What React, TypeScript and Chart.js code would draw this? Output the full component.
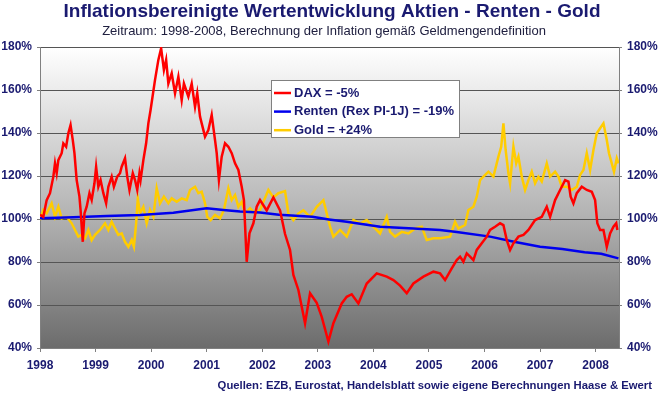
import { useEffect, useRef } from "react";
import { Chart, registerables } from "chart.js";

Chart.register(...registerables);

const titleText = "Inflationsbereinigte Wertentwicklung Aktien - Renten - Gold";
const subtitleText = "Zeitraum: 1998-2008, Berechnung der Inflation gemäß Geldmengendefinition";
const sourceText = "Quellen: EZB, Eurostat, Handelsblatt sowie eigene Berechnungen Haase & Ewert";
const seriesLabels = ["DAX = -5%", "Renten (Rex PI-1J) = -19%", "Gold = +24%"];
const seriesColors = ["#ff0000", "#0000ee", "#ffcc00"];

const xTickYears = [1998, 1999, 2000, 2001, 2002, 2003, 2004, 2005, 2006, 2007, 2008];
const yTickValues = [40, 60, 80, 100, 120, 140, 160, 180];

const daxYears = [
  1998.0, 1998.06, 1998.12, 1998.18, 1998.24, 1998.27, 1998.3, 1998.33, 1998.39, 1998.42,
  1998.47, 1998.51, 1998.55, 1998.59, 1998.62, 1998.66, 1998.71, 1998.73, 1998.77, 1998.8,
  1998.84, 1998.89, 1998.93, 1998.98, 1999.01, 1999.05, 1999.09, 1999.14, 1999.19, 1999.23,
  1999.29, 1999.33, 1999.39, 1999.44, 1999.47, 1999.53, 1999.57, 1999.61, 1999.67, 1999.71,
  1999.75, 1999.79, 1999.81, 1999.86, 1999.91, 1999.95, 1999.99,
  2000.07, 2000.13, 2000.18, 2000.23, 2000.27, 2000.31, 2000.37, 2000.43, 2000.49, 2000.55,
  2000.59, 2000.67, 2000.73, 2000.79, 2000.83, 2000.88,
  2000.91, 2000.97, 2001.03, 2001.09, 2001.15, 2001.18, 2001.22, 2001.27, 2001.33, 2001.39,
  2001.45, 2001.51, 2001.57, 2001.63, 2001.67, 2001.72, 2001.77, 2001.84, 2001.9, 2001.96,
  2002.08, 2002.2, 2002.32, 2002.41, 2002.5, 2002.56, 2002.65, 2002.77, 2002.86, 2002.98,
  2003.07, 2003.19, 2003.28, 2003.43, 2003.52, 2003.61, 2003.73, 2003.88, 2004.06, 2004.24,
  2004.36, 2004.48, 2004.6, 2004.72, 2004.9, 2005.08, 2005.2, 2005.29,
  2005.41, 2005.5, 2005.56, 2005.62, 2005.68, 2005.74, 2005.8, 2005.86, 2005.95, 2006.04,
  2006.1, 2006.19, 2006.28, 2006.34, 2006.4, 2006.46, 2006.52, 2006.61, 2006.7, 2006.79,
  2006.91, 2007.03, 2007.12, 2007.18, 2007.27, 2007.36, 2007.45, 2007.51, 2007.55, 2007.6,
  2007.66, 2007.75, 2007.84, 2007.93, 2007.99, 2008.03, 2008.08, 2008.14, 2008.2, 2008.26,
  2008.32, 2008.37, 2008.39,
];
const daxValues = [
  102, 101, 108.8, 112, 119.7, 125.9, 121.3, 127.4, 130.6, 135.2,
  133.6, 139.9, 143.7, 136.7, 130.6, 118.1, 110.4, 104.2, 89.4, 102.6,
  105.7, 112, 108.8, 116.6, 124.3, 115, 118.1, 112, 107.3, 115,
  119.7, 115, 119.7, 121.3, 124.3, 128.2, 119.7, 113.5, 121.3, 118.1,
  113.5, 121.3, 118.1, 127.4, 135.2, 144.5, 150.7,
  164.7, 174, 179.4, 169.3, 174, 163, 167.8, 158.5, 166.2, 155.3,
  163, 156.9, 163, 152.2, 158.5, 147.6,
  144.5, 138.3, 141.4, 148.4, 136.7, 130.6, 118.1, 129, 135.2, 133.6,
  130.6, 125.9, 122.8, 115, 108.8, 80.1, 93.3, 98, 105.7, 108.8,
  104, 110, 104, 93, 85.6, 74, 67, 51.5, 65.5, 61,
  54.5, 43, 51.5, 60.7, 63.8, 65, 60.7, 70, 74.7, 73.2,
  71.6, 69, 65.5, 70, 73.2, 75.5, 74.7, 71.6,
  77, 80.9, 82.5, 80.1, 84, 82.5, 80.9, 85.6, 88.7, 91.8,
  94.9, 96.4, 98, 97.2, 90.2, 85.6, 88.7, 91.8, 92.6, 94.9,
  99.5, 101, 105.7, 101, 108.8, 113.5, 118.1, 117.4, 110.4, 107.3,
  112, 115, 113.5, 112.7, 108.8, 98, 94.9, 94.9, 87.1, 93.3,
  96.4, 98, 94.9,
];

const rentenYears = [
  1998.0, 1998.6, 1999.2, 1999.8, 2000.4, 2001.0, 2001.3, 2001.6, 2001.96, 2002.3,
  2002.9, 2003.2, 2003.52, 2004.12, 2004.72, 2005.2, 2005.5, 2006.1, 2006.53, 2007.0,
  2007.4, 2007.8, 2008.1, 2008.41,
];
const rentenValues = [
  100.3, 100.8, 101.4, 101.9, 102.9, 105, 104.2, 103.5, 103, 102,
  101, 99.8, 98.7, 96.4, 95.6, 94.9, 94, 91.8, 89.4, 87.1,
  86, 84.5, 83.8, 81.7,
];

const goldYears = [
  1998.0, 1998.06, 1998.12, 1998.21, 1998.27, 1998.33, 1998.39, 1998.48, 1998.57, 1998.63,
  1998.69, 1998.75, 1998.81, 1998.87, 1998.93, 1998.99, 1999.08, 1999.17, 1999.23, 1999.29,
  1999.35, 1999.41, 1999.47, 1999.53, 1999.59, 1999.65, 1999.69, 1999.73, 1999.76, 1999.8,
  1999.86, 1999.92, 1999.98, 2000.04, 2000.1, 2000.16, 2000.23, 2000.31, 2000.37, 2000.46,
  2000.55, 2000.64, 2000.7, 2000.79, 2000.85, 2000.91, 2000.97, 2001.01, 2001.07, 2001.15,
  2001.24, 2001.31, 2001.39, 2001.45, 2001.51, 2001.57, 2001.63, 2001.69, 2001.78, 2001.87,
  2001.96,
  2002.11, 2002.2, 2002.29, 2002.41, 2002.47, 2002.56, 2002.65, 2002.74, 2002.86, 2002.98,
  2003.1, 2003.16, 2003.22, 2003.28, 2003.4, 2003.52, 2003.64, 2003.76, 2003.88, 2004.0,
  2004.12, 2004.24, 2004.3, 2004.39, 2004.51, 2004.63, 2004.75, 2004.87, 2004.96, 2005.08,
  2005.2, 2005.38, 2005.47, 2005.53, 2005.65, 2005.71, 2005.8, 2005.86, 2005.92, 2005.98,
  2006.07, 2006.16, 2006.25, 2006.3, 2006.34, 2006.38, 2006.43, 2006.46, 2006.52, 2006.57,
  2006.61, 2006.67, 2006.73, 2006.79, 2006.85, 2006.91, 2006.97, 2007.03, 2007.12, 2007.18,
  2007.27, 2007.33, 2007.39, 2007.48, 2007.57, 2007.66, 2007.72, 2007.78, 2007.84, 2007.9,
  2007.96, 2008.02, 2008.08, 2008.14, 2008.2, 2008.24, 2008.29, 2008.33, 2008.38, 2008.41,
];
const goldValues = [
  99.5, 104.2, 102.6, 107.3, 101, 105.7, 100.3, 101, 98, 94.9,
  91.8, 92.6, 91, 94.9, 90.2, 92.6, 94.9, 98, 94.9, 98.7,
  95.6, 92.6, 93.3, 89.4, 87.1, 90.2, 87.1, 98, 109.6, 102.6,
  105.7, 98, 104.2, 101, 114.3, 107.3, 110.4, 107.3, 109.6, 108,
  109.6, 108.8, 113.5, 115, 112, 112.7, 107.3, 101, 99.5, 101.9,
  100.3, 104.2, 114.3, 108.8, 111.2, 105.7, 108, 102.6, 105, 102.6,
  104.2,
  113.5, 110, 112, 113, 102.6, 99.5, 102.6, 104, 101, 105.7,
  108.8, 102.6, 96.4, 91.8, 94.9, 91.8, 99.5, 98, 99.5, 96.4,
  93.3, 101, 94, 91.8, 94, 93.3, 95.6, 96.4, 90.2, 91,
  91, 91.8, 98.7, 95.6, 97.2, 104.2, 105.7, 110.4, 118.1, 119.7,
  122, 119.7, 129, 133.6, 144.5, 132.1, 121.3, 116.6, 133.6, 125.9,
  129, 119.7, 113.5, 118.1, 122, 116.6, 119.7, 117.4, 125.9, 119.7,
  122, 119.7, 115, 115, 113.5, 115, 120.5, 122.8, 130.6, 122.8,
  132.1, 139.9, 142.2, 144.5, 136.7, 130.6, 125.9, 122, 128.2, 125.9,
];

const NAVY = "#1a1a70";
const FONT = '"Liberation Sans", Arial, sans-serif';

const toPoints = (xs: number[], ys: number[]) => xs.map((x, i) => ({ x, y: ys[i] }));

const backgroundPlugin = {
  id: "bgGradient",
  beforeDraw(chart: any) {
    const { ctx, chartArea, width, height } = chart;
    ctx.save();
    ctx.fillStyle = "#ffffff";
    ctx.fillRect(0, 0, width, height);
    const g = ctx.createLinearGradient(0, chartArea.top, 0, chartArea.bottom);
    g.addColorStop(0, "#ffffff");
    g.addColorStop(0.55, "#b4b4b4");
    g.addColorStop(1, "#6c6c6c");
    ctx.fillStyle = g;
    ctx.fillRect(chartArea.left, chartArea.top, chartArea.right - chartArea.left, chartArea.bottom - chartArea.top);
    ctx.restore();
  },
};

const textPlugin = {
  id: "texts",
  afterDraw(chart: any) {
    const { ctx } = chart;
    ctx.save();
    ctx.textAlign = "center";
    ctx.textBaseline = "middle";
    ctx.fillStyle = NAVY;
    ctx.font = `bold 19px ${FONT}`;
    ctx.fillText(titleText, 332, 12);
    ctx.fillStyle = "#202040";
    ctx.font = `13px ${FONT}`;
    ctx.fillText(subtitleText, 324, 31);
    ctx.textAlign = "right";
    ctx.fillStyle = NAVY;
    ctx.font = `bold 11.3px ${FONT}`;
    ctx.fillText(sourceText, 652, 386);
    ctx.restore();
  },
};

const legendPlugin = {
  id: "legendBox",
  afterDatasetsDraw(chart: any) {
    const { ctx } = chart;
    const x = 271, y = 80, w = 188, h = 57;
    ctx.save();
    ctx.fillStyle = "#ffffff";
    ctx.fillRect(x, y, w, h);
    ctx.strokeStyle = "#808080";
    ctx.lineWidth = 1;
    ctx.strokeRect(x + 0.5, y + 0.5, w, h);
    chart.data.datasets.forEach((ds: any, i: number) => {
      const cy = y + 13 + i * 18.6;
      ctx.strokeStyle = ds.borderColor;
      ctx.lineWidth = 2.5;
      ctx.beginPath();
      ctx.moveTo(x + 3, cy);
      ctx.lineTo(x + 20, cy);
      ctx.stroke();
      ctx.fillStyle = NAVY;
      ctx.font = `bold 13px ${FONT}`;
      ctx.textBaseline = "middle";
      ctx.textAlign = "left";
      ctx.fillText(ds.label, x + 23, cy);
    });
    ctx.restore();
  },
};

export default function App() {
  const ref = useRef<HTMLCanvasElement>(null);
  useEffect(() => {
    document.body.style.margin = "0";
    const canvas = ref.current;
    if (!canvas) return;
    const tickFont = { family: FONT, size: 12, weight: "bold" as const };
    const yScale = (position: "left" | "right", onArea: boolean, width: number) => ({
      type: "linear" as const,
      position,
      min: 40,
      max: 180,
      afterBuildTicks: (axis: any) => {
        axis.ticks = yTickValues.map((v) => ({ value: v }));
      },
      afterFit: (axis: any) => {
        axis.width = width;
      },
      ticks: {
        color: NAVY,
        font: tickFont,
        padding: 5,
        callback: (v: any) => `${v}%`,
      },
      grid: {
        display: true,
        drawOnChartArea: onArea,
        color: "#555555",
        tickColor: "#808080",
        tickLength: 3,
        lineWidth: 1,
      },
      border: { display: true, color: "#808080" },
    });
    const chart = new Chart(canvas, {
      type: "line",
      data: {
        datasets: [
          { label: seriesLabels[0], data: toPoints(daxYears, daxValues), borderColor: seriesColors[0], order: 0 },
          { label: seriesLabels[1], data: toPoints(rentenYears, rentenValues), borderColor: seriesColors[1], order: 1 },
          { label: seriesLabels[2], data: toPoints(goldYears, goldValues), borderColor: seriesColors[2], order: 2 },
        ].map((d) => ({ ...d, borderWidth: 2.5, pointRadius: 0, tension: 0, fill: false })),
      },
      options: {
        responsive: false,
        animation: false,
        devicePixelRatio: 1,
        layout: { padding: { top: 47, left: 0, right: 0, bottom: 0 } },
        plugins: {
          legend: { display: false },
          tooltip: { enabled: false },
          title: { display: false },
        },
        scales: {
          x: {
            type: "linear",
            min: 1998,
            max: 2008.42,
            afterBuildTicks: (axis: any) => {
              axis.ticks = xTickYears.map((v) => ({ value: v }));
            },
            afterFit: (axis: any) => {
              axis.height = 46;
            },
            ticks: {
              color: NAVY,
              font: tickFont,
              padding: 6,
              maxRotation: 0,
              autoSkip: false,
              callback: (v: any) => String(v),
            },
            grid: {
              display: true,
              drawOnChartArea: false,
              tickColor: "#808080",
              tickLength: 4,
            },
            border: { display: true, color: "#808080" },
          },
          y: yScale("left", true, 40),
          y2: yScale("right", false, 41),
        },
      },
      plugins: [backgroundPlugin, legendPlugin, textPlugin],
    });
    return () => chart.destroy();
  }, []);
  return (
    <div style={{ width: 660, height: 394 }}>
      <canvas ref={ref} width={660} height={394} style={{ display: "block" }} />
    </div>
  );
}
